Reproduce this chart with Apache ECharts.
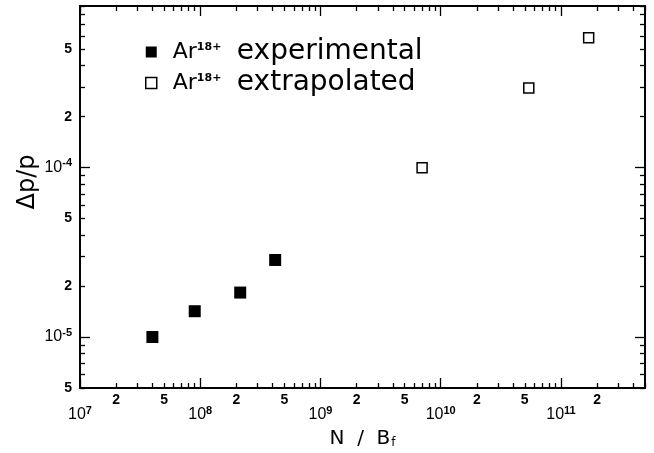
<!DOCTYPE html>
<html><head><meta charset="utf-8">
<script src="https://cdn.jsdelivr.net/npm/echarts@6/dist/echarts.min.js"></script>
<style>html,body{margin:0;padding:0;background:#fff}#c{width:654px;height:453px}</style>
</head><body><div id="c"></div>
<script>
// ---- data ----
const seriesNames = ['experimental', 'extrapolated'];
const expN  = [4.0e7, 9.0e7, 2.15e8, 4.2e8];
const expDp = [1.0e-5, 1.42e-5, 1.83e-5, 2.85e-5];
const extN  = [7.0e9, 5.4e10, 1.7e11];
const extDp = [1.0e-4, 2.95e-4, 5.85e-4];

// ---- axis ranges and tick labels ----
const xMin = 1e7, xMax = 5e11, yMin = 5e-6, yMax = 9e-4;
const xLabelValues = [1e7, 2e7, 5e7, 1e8, 2e8, 5e8, 1e9, 2e9, 5e9, 1e10, 2e10, 5e10, 1e11, 2e11];
const xLabelTexts  = ['10^7','2','5','10^8','2','5','10^9','2','5','10^10','2','5','10^11','2'];
const yLabelValues = [5e-6, 1e-5, 2e-5, 5e-5, 1e-4, 2e-4, 5e-4];
const yLabelTexts  = ['5','10^-5','2','5','10^-4','2','5'];
const minorMantissas = [2, 3, 4, 5, 6, 7, 8, 9];
const majorMantissas = [1];

const L = Math.log10;
function ticksIn(lo, hi, mants) {
  const out = [];
  for (let e = Math.floor(L(lo)) - 1; e <= Math.ceil(L(hi)); e++) {
    for (const m of mants) {
      const v = m * Math.pow(10, e);
      if (v >= lo * (1 - 1e-9) && v <= hi * (1 + 1e-9)) out.push(L(m) + e);
    }
  }
  return out;
}
function labelSet(values, texts, major) {
  const vals = [], txt = [];
  values.forEach((v, i) => {
    const isMajor = texts[i].indexOf('^') >= 0;
    if (isMajor === major) { vals.push(L(v)); txt.push(texts[i]); }
  });
  return { vals, txt };
}
function fmt(set) {
  return function (v) {
    const i = set.vals.findIndex(a => Math.abs(a - v) < 1e-6);
    if (i < 0) return '';
    const t = set.txt[i];
    if (t.indexOf('^') >= 0) {
      const p = t.split('^');
      return '{b|' + p[0] + '}{e|' + p[1] + '}';
    }
    return '{m|' + t + '}';
  };
}
const labelRich = {
  m: { fontSize: 14, fontWeight: 'bold', fontFamily: 'Liberation Sans', lineHeight: 14, color: '#000' },
  b: { fontSize: 16, fontFamily: 'Liberation Sans', lineHeight: 16, color: '#000' },
  e: { fontSize: 11, fontWeight: 'bold', fontFamily: 'Liberation Sans', lineHeight: 11, padding: [0, 0, 9, 0], color: '#000' }
};

const xMinorT = ticksIn(xMin, xMax, minorMantissas), xMajorT = ticksIn(xMin, xMax, majorMantissas);
const yMinorT = ticksIn(yMin, yMax, minorMantissas), yMajorT = ticksIn(yMin, yMax, majorMantissas);
const xMinorLab = labelSet(xLabelValues, xLabelTexts, false), xMajorLab = labelSet(xLabelValues, xLabelTexts, true);
const yMinorLab = labelSet(yLabelValues, yLabelTexts, false), yMajorLab = labelSet(yLabelValues, yLabelTexts, true);

const tickLine = { color: '#000', width: 1.3 };
function auxAxis(pos, lo, hi, ticks, len, lab, margin) {
  return {
    type: 'value', position: pos, min: L(lo), max: L(hi),
    axisLine: { show: true, onZero: false, lineStyle: { color: '#000', width: 1.5 } },
    splitLine: { show: false },
    axisTick: { show: true, inside: true, length: len, customValues: ticks, lineStyle: tickLine },
    axisLabel: lab ? { show: true, customValues: lab.vals, formatter: fmt(lab), margin: margin, rich: labelRich, color: '#000' } : { show: false }
  };
}

const chart = echarts.init(document.getElementById('c'), null, { renderer: 'canvas' });
chart.setOption({
  animation: false,
  backgroundColor: '#fff',
  grid: { left: 80, right: 9, top: 6, bottom: 65, show: true, borderColor: '#000', borderWidth: 1.5, backgroundColor: 'transparent', containLabel: false, outerBoundsMode: 'none' },
  xAxis: [
    { type: 'log', min: xMin, max: xMax, position: 'bottom',
      axisLine: { show: false, onZero: false }, axisTick: { show: false }, axisLabel: { show: false }, splitLine: { show: false },
      name: 'N  /  B{sub|f}', nameLocation: 'middle', nameGap: 41,
      nameTextStyle: { fontSize: 20, fontFamily: '"DejaVu Sans"', color: '#000',
        rich: { sub: { fontSize: 12, fontFamily: '"DejaVu Sans"', padding: [8, 0, 0, 1], color: '#000' } } } },
    auxAxis('bottom', xMin, xMax, xMinorT, 5, xMinorLab, 5),
    auxAxis('bottom', xMin, xMax, xMajorT, 10, xMajorLab, 19),
    auxAxis('top', xMin, xMax, xMinorT, 5, null),
    auxAxis('top', xMin, xMax, xMajorT, 10, null)
  ],
  yAxis: [
    { type: 'log', min: yMin, max: yMax, position: 'left',
      axisLine: { show: false, onZero: false }, axisTick: { show: false }, axisLabel: { show: false }, splitLine: { show: false },
      name: 'Δp/p', nameLocation: 'middle', nameGap: 40,
      nameTextStyle: { fontSize: 24, fontFamily: '"DejaVu Sans"', color: '#000', padding: [0, 0, 0, 30] } },
    auxAxis('left', yMin, yMax, yMinorT, 5, yMinorLab, 8),
    auxAxis('left', yMin, yMax, yMajorT, 10, yMajorLab, 8),
    auxAxis('right', yMin, yMax, yMinorT, 5, null),
    auxAxis('right', yMin, yMax, yMajorT, 10, null)
  ],
  legend: {
    orient: 'vertical', left: 145, top: 38, padding: 0, itemWidth: 11, itemHeight: 11, itemGap: 3,
    selectedMode: false,
    data: [
      { name: seriesNames[0], icon: 'rect', itemStyle: { color: '#000', borderWidth: 0, opacity: 1 } },
      { name: seriesNames[1], icon: 'rect', itemStyle: { color: '#fff', borderColor: '#000', borderWidth: 1.5, opacity: 1 } }
    ],
    formatter: function (name) { return '{a|Ar}{s|18+}{t|' + name + '}'; },
    textStyle: {
      color: '#000',
      rich: {
        a: { fontSize: 22, fontFamily: '"DejaVu Sans"', lineHeight: 26, padding: [0, 0, 0, 11], color: '#000' },
        s: { fontSize: 11, fontWeight: 'bold', fontFamily: '"DejaVu Sans"', lineHeight: 12, padding: [0, 0, 10, 0], width: 40, color: '#000' },
        t: { fontSize: 28, fontFamily: '"DejaVu Sans"', lineHeight: 30, color: '#000' }
      }
    }
  },
  series: [
    { name: seriesNames[0], type: 'scatter', xAxisIndex: 0, yAxisIndex: 0, symbol: 'rect', symbolSize: 12,
      itemStyle: { color: '#000', opacity: 1 }, data: expN.map((n, i) => [n, expDp[i]]) },
    { name: seriesNames[1], type: 'scatter', xAxisIndex: 0, yAxisIndex: 0, symbol: 'rect', symbolSize: 10,
      itemStyle: { color: '#fff', borderColor: '#000', borderWidth: 1.5, opacity: 1 }, data: extN.map((n, i) => [n, extDp[i]]) }
  ]
});
</script></body></html>
